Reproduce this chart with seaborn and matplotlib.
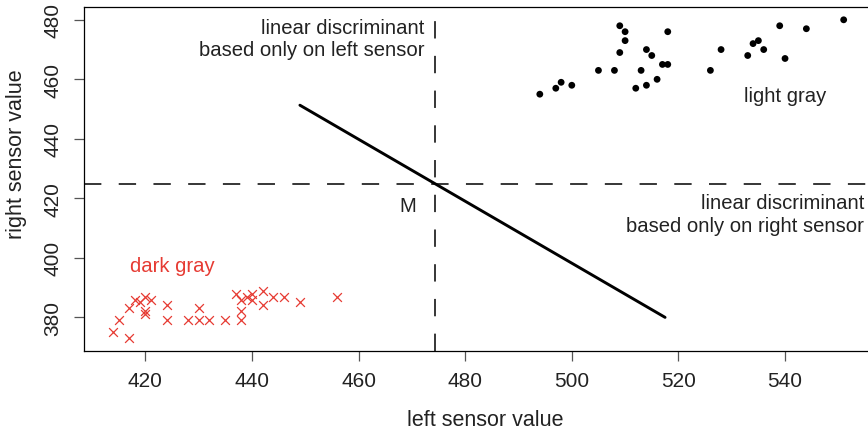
import matplotlib
matplotlib.use("Agg")
import matplotlib.pyplot as plt
import seaborn as sns
import pandas as pd

# --- data ---
light_x = [494, 497, 498, 500, 505, 508, 509, 510, 510, 509, 514, 515, 513, 512, 514,
           516, 517, 518, 518, 526, 528, 533, 534, 535, 536, 539, 540, 544, 551]
light_y = [455, 457, 459, 458, 463, 463, 478, 476, 473, 469, 470, 468, 463, 457, 458,
           460, 465, 465, 476, 463, 470, 468, 472, 473, 470, 478, 467, 477, 480]

dark_x = [414, 415, 417, 417, 418, 419, 420, 420, 420, 421, 424, 424, 428, 430, 430,
          432, 435, 437, 438, 438, 438, 439, 440, 440, 442, 442, 444, 446, 449, 456]
dark_y = [375, 379, 373, 383, 386, 385, 387, 382, 381, 386, 384, 379, 379, 379, 383,
          379, 379, 388, 379, 382, 386, 387, 388, 386, 389, 384, 387, 387, 385, 387]

discr_x = [449, 517.5]
discr_y = [451.3, 380]

M_x, M_y = 474.3, 424.8

x_ticks = [420, 440, 460, 480, 500, 520, 540]
y_ticks = [380, 400, 420, 440, 460, 480]

RED = "#e63b33"
TXT = "#222222"

sns.set_theme(style="white")
plt.rcParams["font.family"] = ["Liberation Sans", "DejaVu Sans"]
plt.rcParams["lines.scale_dashes"] = False

W, H = 868, 431
fig = plt.figure(figsize=(W / 100, H / 100), dpi=100)
left, right, top, bottom = 84, 873, 8, 351.7
ax = fig.add_axes([left / W, 1 - bottom / H, (right - left) / W, (bottom - top) / H])

light = pd.DataFrame({"left": light_x, "right": light_y})
dark = pd.DataFrame({"left": dark_x, "right": dark_y})
line = pd.DataFrame({"left": discr_x, "right": discr_y})

sns.scatterplot(data=light, x="left", y="right", ax=ax, color="black", marker="o",
                s=24, edgecolor="none", zorder=3)
sns.scatterplot(data=dark, x="left", y="right", ax=ax, color=RED, marker="x",
                s=40, linewidth=0.9, zorder=3)
sns.lineplot(data=line, x="left", y="right", ax=ax, color="black", lw=2.1,
             sort=False, estimator=None)

dash = (0, (12.5, 12.5))
ax.axvline(M_x, color="black", lw=1.1, linestyle=dash)
ax.axhline(M_y, color="black", lw=1.1, linestyle=dash)

ax.set_xlim(408.5, 556.5)
ax.set_ylim(368.8, 484.3)
ax.set_xticks(x_ticks)
ax.set_yticks(y_ticks)
ax.set_xlabel("")
ax.set_ylabel("")

for s in ["left", "top", "bottom", "right"]:
    ax.spines[s].set_color("black")
    ax.spines[s].set_linewidth(0.9)

ax.tick_params(axis="both", direction="out", length=7.5, width=0.9, color="#555555",
               labelsize=15, labelcolor=TXT, bottom=True, left=True)
ax.tick_params(axis="x", pad=7)
ax.tick_params(axis="y", pad=8)
for lab in ax.get_yticklabels():
    lab.set_rotation(90)
    lab.set_va("center")

fs = 14.6
ax.text(472.3, 473.8, "linear discriminant\nbased only on left sensor", ha="right",
        va="center", fontsize=fs, color=TXT, multialignment="right", linespacing=1.22)
ax.text(554.8, 414.7, "linear discriminant\nbased only on right sensor", ha="right",
        va="center", fontsize=fs, color=TXT, multialignment="right", linespacing=1.22)
ax.text(469.3, 417.5, "M", ha="center", va="center", fontsize=fs, color=TXT)
ax.text(425.1, 397.3, "dark gray", ha="center", va="center", fontsize=fs, color=RED)
ax.text(540.1, 454.5, "light gray", ha="center", va="center", fontsize=fs, color=TXT)

fig.text(485 / W, 1 - 426 / H, "left sensor value", ha="center", va="baseline",
         fontsize=15.5, color=TXT)
fig.text(17 / W, 1 - 154 / H, "right sensor value", ha="center", va="center",
         rotation=90, fontsize=15.5, color=TXT)

fig.savefig("out.png", dpi=100)
